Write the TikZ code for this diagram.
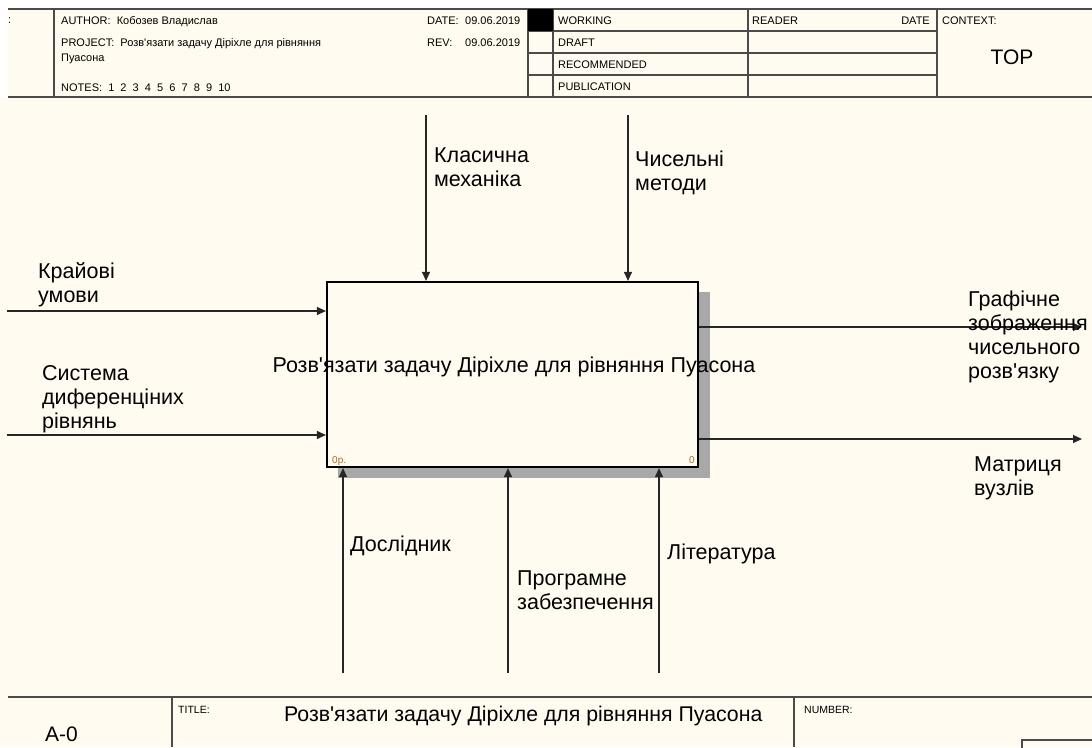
\documentclass[tikz,border=0pt]{standalone}
\usepackage{fontspec}
\setmainfont{Liberation Sans}[Ligatures=TeXOff]
\usetikzlibrary{arrows.meta}
\definecolor{cream}{RGB}{255,251,240}
\definecolor{frameline}{RGB}{75,75,75}
\definecolor{numcol}{RGB}{176,106,40}
\definecolor{shadowcol}{RGB}{168,168,168}
\begin{document}
\begin{tikzpicture}[x=1pt,y=-1pt,
  lbl/.style={anchor=base west, inner sep=0pt, align=left, font=\fontsize{21.5}{24}\selectfont},
  hdr/.style={anchor=base west, inner sep=0pt, font=\fontsize{11}{13}\selectfont},
  small/.style={anchor=base west, inner sep=0pt, font=\fontsize{10.5}{12}\selectfont},
  numlbl/.style={inner sep=0pt, text=numcol, font=\fontsize{10}{12}\selectfont},
  arr/.style={draw=black!85, line width=1.1pt, -{Triangle[length=9pt,width=8pt]}},
  frameout/.style={draw=frameline, line width=1.5pt},
  framein/.style={draw=frameline, line width=1.1pt},
  funcbox/.style={draw=black, line width=2.2pt, fill=cream, minimum width=371pt, minimum height=185pt, inner sep=0pt}
]
\useasboundingbox (0,0) rectangle (1092,747);
\fill[cream] (0,0) rectangle (1092,747);
\fill[white] (0,0) rectangle (1092,9);
\fill[white] (0,0) rectangle (8,97);

% ---------- header ----------
\draw[frameout] (8,9) -- (1092,9);
\draw[frameout] (8,97) -- (1092,97);
\draw[framein] (54,9) -- (54,97);
\draw[framein] (528,9) -- (528,97);
\draw[framein] (553,9) -- (553,97);
\draw[framein] (748,9) -- (748,97);
\draw[framein] (937,9) -- (937,97);
\foreach \yy in {31,53,75} \draw[framein] (528,\yy) -- (937,\yy);
\fill[black] (528,9) rectangle (553,31);

\node[hdr] (usedat) at (8,23) {:};
\node[hdr] (author) at (61,24) {AUTHOR:\ \ Кобозев Владислав};
\node[hdr] (project) at (61,46) {PROJECT:\ \ Розв'язати задачу Діріхле для рівняння};
\node[hdr] (project2) at (61,61) {Пуасона};
\node[hdr] (notes) at (61,91) {NOTES:\ \ 1\ \ 2\ \ 3\ \ 4\ \ 5\ \ 6\ \ 7\ \ 8\ \ 9\ \ 10};
\node[hdr] (datelbl) at (427,24) {DATE:};
\node[hdr] (dateval) at (465,24) {09.06.2019};
\node[hdr] (revlbl) at (427,46) {REV:};
\node[hdr] (revval) at (465,46) {09.06.2019};
\node[hdr] (working) at (558,24) {WORKING};
\node[hdr] (draft) at (558,46) {DRAFT};
\node[hdr] (recommended) at (558,68) {RECOMMENDED};
\node[hdr] (publication) at (558,90) {PUBLICATION};
\node[hdr] (reader) at (752,24) {READER};
\node[hdr, anchor=base east] (rdate) at (930,24) {DATE};
\node[hdr] (context) at (942,24) {CONTEXT:};
\node[inner sep=0pt, anchor=base, font=\fontsize{21}{24}\selectfont] (top) at (1012,64) {TOP};

% ---------- function box ----------
\fill[shadowcol] (698,292) rectangle (710,478);
\fill[shadowcol] (338,467) rectangle (710,478);
\node[funcbox] (box) at (512.5,374.5) {};
\node[inner sep=0pt, anchor=base, font=\fontsize{21.5}{24}\selectfont] (boxtitle) at (514,372) {Розв'язати задачу Діріхле для рівняння Пуасона};
\node[numlbl, anchor=base west] (nodenum) at (332,463) {0р.};
\node[numlbl, anchor=base east] (boxnum) at (695,463) {0};

% ---------- inputs ----------
\coordinate (i1) at (7,311);
\coordinate (i2) at (7,435);
\draw[arr] (i1) -- (i1 -| box.west);
\draw[arr] (i2) -- (i2 -| box.west);
\node[lbl] (li1) at (38,302) {Крайові\\умови};
\node[lbl] (li2) at (42,428) {Система\\диференціних\\рівнянь};

% ---------- controls ----------
\coordinate (c1) at (426,115);
\coordinate (c2) at (628,115);
\draw[arr] (c1) -- (c1 |- box.north);
\draw[arr] (c2) -- (c2 |- box.north);
\node[lbl] (lc1) at (434,186) {Класична\\механіка};
\node[lbl] (lc2) at (635,190) {Чисельні\\методи};

% ---------- outputs ----------
\coordinate (o1) at (1082,327);
\coordinate (o2) at (1082,439);
\draw[arr] (o1 -| box.east) -- (o1);
\draw[arr] (o2 -| box.east) -- (o2);
\node[lbl] (lo1) at (968,378) {Графічне\\зображення\\чисельного\\розв'язку};
\node[lbl] (lo2) at (974,495) {Матриця\\вузлів};

% ---------- mechanisms ----------
\coordinate (m1) at (343,673);
\coordinate (m2) at (508,673);
\coordinate (m3) at (659,673);
\draw[arr] (m1) -- (m1 |- box.south);
\draw[arr] (m2) -- (m2 |- box.south);
\draw[arr] (m3) -- (m3 |- box.south);
\node[lbl] (lm1) at (350,551) {Дослідник};
\node[lbl] (lm2) at (517,609) {Програмне\\забезпечення};
\node[lbl] (lm3) at (667,559) {Література};

% ---------- footer ----------
\draw[frameout] (8,697) -- (1092,697);
\draw[framein] (172,697) -- (172,747);
\draw[framein] (794,697) -- (794,747);
\draw[framein] (1022,740) rectangle (1100,760);
\node[small] (titlelbl) at (178,713) {TITLE:};
\node[small] (numberlbl) at (804,713) {NUMBER:};
\node[inner sep=0pt, anchor=base west, font=\fontsize{21.3}{24}\selectfont] (title) at (284,721) {Розв'язати задачу Діріхле для рівняння Пуасона};
\node[inner sep=0pt, anchor=base west, font=\fontsize{21}{24}\selectfont] (nodeid) at (45,741) {A-0};
\end{tikzpicture}
\end{document}
